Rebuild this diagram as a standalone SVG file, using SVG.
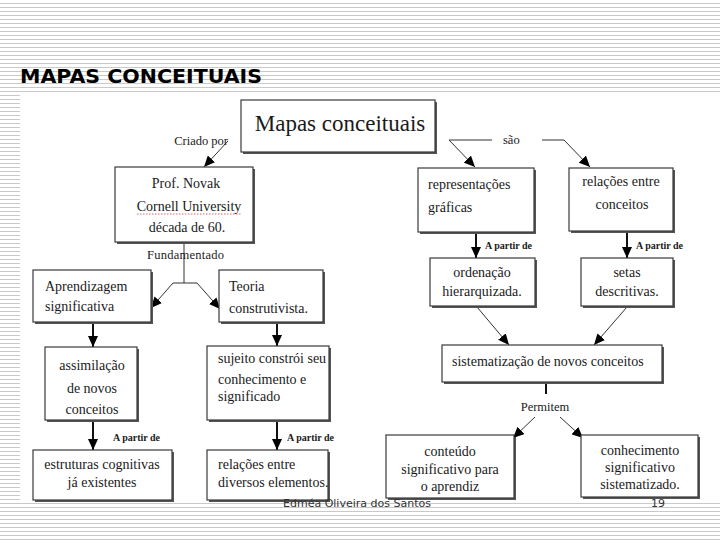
<svg xmlns="http://www.w3.org/2000/svg" width="720" height="540" viewBox="0 0 720 540">
<defs>
<pattern id="stripes" width="8" height="4" patternUnits="userSpaceOnUse">
<rect width="8" height="4" fill="#ffffff"/>
<rect y="3" width="8" height="1" fill="#c9c9c9"/>
</pattern>
<marker id="ah" markerUnits="userSpaceOnUse" markerWidth="12" markerHeight="10" refX="11" refY="5" orient="auto">
<path d="M0,0 L11,5 L0,10 z" fill="#000"/>
</marker>
</defs>
<style>
.box{fill:#fff;stroke:#3a3a3a;stroke-width:1.2}
.sh{fill:#555}
.t{font-family:"Liberation Serif","Times New Roman",serif;font-size:14px;fill:#1a1a1a}
.big{font-size:23px}
.c{text-anchor:middle}
.lbl{font-family:"Liberation Serif","Times New Roman",serif;font-size:12.5px;fill:#1a1a1a}
.ap{font-family:"Liberation Serif","Times New Roman",serif;font-size:10px;font-weight:bold;fill:#1a1a1a}
.thin{fill:none;stroke:#333;stroke-width:1;marker-end:url(#ah)}
.thick{fill:none;stroke:#111;stroke-width:2;marker-end:url(#ah)}
.foot{font-family:"DejaVu Sans",Verdana,sans-serif;font-size:11px;fill:#333}
</style>
<rect width="720" height="540" fill="url(#stripes)"/>
<rect x="20" y="93" width="700" height="410" fill="#fff"/>
<text x="20" y="83" font-family="'DejaVu Sans',Verdana,sans-serif" font-weight="bold" font-size="19" textLength="242" lengthAdjust="spacingAndGlyphs" fill="#000">MAPAS CONCEITUAIS</text>

<g id="connectors">
<path class="thin" d="M228,141 L204,167"/>
<path class="thin" d="M492,140 H449 L475,167"/>
<path class="thin" d="M542,140 H564 L590,167"/>
<path class="thick" d="M476,232 V258"/>
<path class="thick" d="M627,231 V258"/>
<path class="thin" d="M477,307 L509,345"/>
<path class="thin" d="M627,307 L594,345"/>
<path d="M546,382 V394" stroke="#111" stroke-width="2"/>
<path class="thin" d="M535,417 L513,438"/>
<path class="thin" d="M560,417 L583,438"/>
<path d="M184,242 V283" stroke="#333" stroke-width="1"/>
<path class="thin" d="M184,283 H173 L151,308"/>
<path class="thin" d="M184,283 H197 L220,309"/>
<path class="thick" d="M93,322 V347"/>
<path class="thick" d="M277,322 V346"/>
<path class="thick" d="M93,420 V450"/>
<path class="thick" d="M277,420 V450"/>
<text class="lbl" x="228" y="145" text-anchor="end">Criado por</text>
<text class="lbl" x="503" y="144">são</text>
<text class="lbl" x="147" y="259" textLength="77">Fundamentado</text>
<text class="lbl" x="545" y="411" text-anchor="middle">Permitem</text>
<text class="ap" x="485" y="249">A partir de</text>
<text class="ap" x="636" y="249">A partir de</text>
<text class="ap" x="113" y="441">A partir de</text>
<text class="ap" x="287" y="441">A partir de</text>
</g>

<g id="mapas">
<rect class="sh" x="243" y="102" width="194" height="52"/>
<rect class="box" x="241" y="100" width="194" height="52"/>
<text class="t c big" x="340" y="131">Mapas conceituais</text>
</g>
<g id="novak">
<rect class="sh" x="117" y="169" width="138" height="75"/>
<rect class="box" x="115" y="167" width="138" height="75"/>
<text class="t c" x="186" y="188">Prof. Novak</text>
<text class="t c" x="189" y="211">Cornell University</text>
<path d="M137,214 H242" stroke="#d66" stroke-width="1" stroke-dasharray="1.5,1.5"/>
<text class="t c" x="187" y="232">década de 60.</text>
</g>
<g id="representacoes">
<rect class="sh" x="420" y="170" width="116" height="64"/>
<rect class="box" x="418" y="168" width="116" height="64"/>
<text class="t" x="428" y="189">representações</text>
<text class="t" x="428" y="212">gráficas</text>
</g>
<g id="relacoes-conceitos">
<rect class="sh" x="571" y="170" width="104" height="63"/>
<rect class="box" x="569" y="168" width="104" height="63"/>
<text class="t c" x="621" y="186">relações entre</text>
<text class="t c" x="622" y="209">conceitos</text>
</g>
<g id="ordenacao">
<rect class="sh" x="432" y="260" width="105" height="48"/>
<rect class="box" x="430" y="258" width="105" height="48"/>
<text class="t c" x="482" y="277">ordenação</text>
<text class="t c" x="482" y="296">hierarquizada.</text>
</g>
<g id="setas">
<rect class="sh" x="583" y="260" width="92" height="48"/>
<rect class="box" x="581" y="258" width="92" height="48"/>
<text class="t c" x="627" y="277">setas</text>
<text class="t c" x="627" y="296">descritivas.</text>
</g>
<g id="sistematizacao">
<rect class="sh" x="444" y="347" width="220" height="37"/>
<rect class="box" x="442" y="345" width="220" height="37"/>
<text class="t" x="452" y="366">sistematização de novos conceitos</text>
</g>
<g id="conteudo">
<rect class="sh" x="388" y="437" width="128" height="63"/>
<rect class="box" x="386" y="435" width="128" height="63"/>
<text class="t c" x="450" y="456">conteúdo</text>
<text class="t c" x="450" y="474">significativo para</text>
<text class="t c" x="450" y="491">o aprendiz</text>
</g>
<g id="conhecimento">
<rect class="sh" x="583" y="437" width="117" height="62"/>
<rect class="box" x="581" y="435" width="117" height="62"/>
<text class="t c" x="640" y="455">conhecimento</text>
<text class="t c" x="640" y="472">significativo</text>
<text class="t c" x="640" y="489">sistematizado.</text>
</g>
<g id="aprendizagem">
<rect class="sh" x="35" y="272" width="118" height="52"/>
<rect class="box" x="33" y="270" width="118" height="52"/>
<text class="t" x="45" y="291">Aprendizagem</text>
<text class="t" x="45" y="311">significativa</text>
</g>
<g id="teoria">
<rect class="sh" x="221" y="272" width="104" height="52"/>
<rect class="box" x="219" y="270" width="104" height="52"/>
<text class="t" x="229" y="291">Teoria</text>
<text class="t" x="229" y="313">construtivista.</text>
</g>
<g id="assimilacao">
<rect class="sh" x="47" y="349" width="92" height="73"/>
<rect class="box" x="45" y="347" width="92" height="73"/>
<text class="t c" x="92" y="370">assimilação</text>
<text class="t c" x="92" y="393">de novos</text>
<text class="t c" x="92" y="414">conceitos</text>
</g>
<g id="sujeito">
<rect class="sh" x="209" y="348" width="122" height="74"/>
<rect class="box" x="207" y="346" width="122" height="74"/>
<text class="t" x="218" y="363">sujeito constrói seu</text>
<text class="t" x="218" y="384">conhecimento e</text>
<text class="t" x="218" y="401">significado</text>
</g>
<g id="estruturas">
<rect class="sh" x="35" y="452" width="139" height="50"/>
<rect class="box" x="33" y="450" width="139" height="50"/>
<text class="t c" x="102" y="469">estruturas cognitivas</text>
<text class="t c" x="102" y="487">já existentes</text>
</g>
<g id="relacoes-elementos">
<rect class="sh" x="209" y="452" width="121" height="50"/>
<rect class="box" x="207" y="450" width="121" height="50"/>
<text class="t" x="218" y="469">relações entre</text>
<text class="t" x="218" y="487">diversos elementos.</text>
</g>

<text class="foot" x="283" y="507">Edméa Oliveira dos Santos</text>
<text class="foot" x="651" y="507">19</text>
</svg>
